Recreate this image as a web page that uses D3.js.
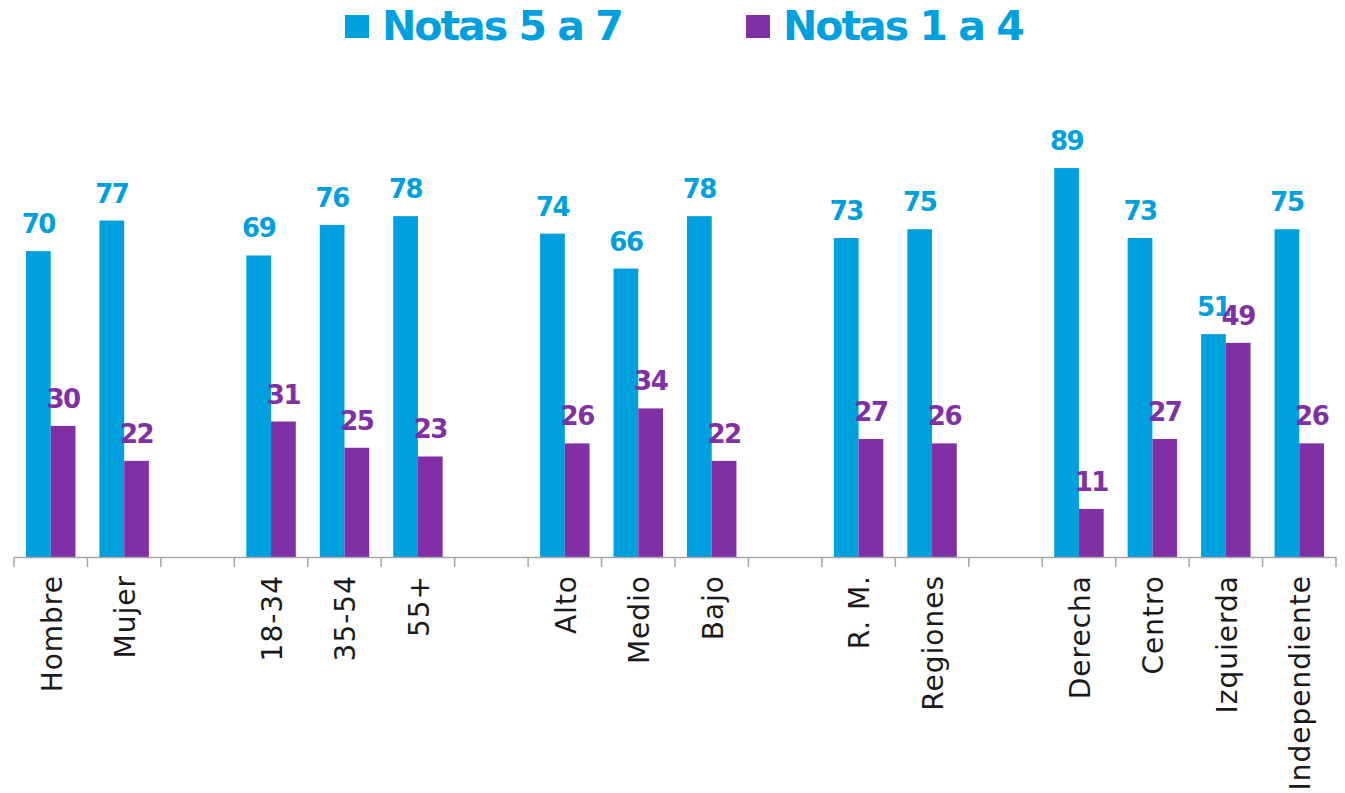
<!DOCTYPE html>
<html>
<head>
<meta charset="utf-8">
<script src="https://cdn.jsdelivr.net/npm/d3@7"></script>
<style>
  body { margin: 0; background: #fff; }
  svg { display: block; }
</style>
</head>
<body>
<div class="chart"></div>
<script>
// categories (empty strings are the gaps between groups)
var categories = ["Hombre", "Mujer", "", "18-34", "35-54", "55+", "", "Alto", "Medio", "Bajo", "",
  "R. M.", "Regiones", "", "Derecha", "Centro", "Izquierda", "Independiente"];
var notas57 = [70, 77, null, 69, 76, 78, null, 74, 66, 78, null, 73, 75, null, 89, 73, 51, 75];
var notas14 = [30, 22, null, 31, 25, 23, null, 26, 34, 22, null, 27, 26, null, 11, 27, 49, 26];
var seriesNames = ["Notas 5 a 7", "Notas 1 a 4"];

var width = 1345, height = 793;
var blue = "#00a0de", purple = "#8030a4";
var colors = [blue, purple];

var svg = d3.select(".chart").append("svg")
  .attr("width", width)
  .attr("height", height);

var x = d3.scaleBand()
  .domain(d3.range(categories.length))
  .range([14, 1336])
  .padding(0);

var xSeries = d3.scaleBand()
  .domain([0, 1])
  .range([12, x.bandwidth() - 12])
  .padding(0);

var y = d3.scaleLinear()
  .domain([0, 100])
  .range([557, 120]);

var rows = categories.map(function(c, i) {
  return { i: i, name: c, values: [notas57[i], notas14[i]] };
});

var groups = svg.selectAll("g.group")
  .data(rows)
  .enter().append("g")
  .attr("class", "group")
  .attr("transform", function(d) { return "translate(" + x(d.i) + ",0)"; });

var cells = groups.selectAll("g.cell")
  .data(function(d) {
    return d.values.map(function(v, s) { return { s: s, v: v }; })
      .filter(function(e) { return e.v !== null; });
  })
  .enter().append("g")
  .attr("class", "cell");

cells.append("rect")
  .attr("x", function(d) { return xSeries(d.s); })
  .attr("y", function(d) { return y(d.v); })
  .attr("width", xSeries.bandwidth())
  .attr("height", function(d) { return y(0) - y(d.v); })
  .attr("fill", function(d) { return colors[d.s]; });

cells.append("text")
  .attr("x", function(d) { return xSeries(d.s) + xSeries.bandwidth() / 2; })
  .attr("y", function(d) { return y(d.v) - 18; })
  .attr("text-anchor", "middle")
  .attr("font-family", "DejaVu Sans")
  .attr("font-weight", "bold")
  .attr("font-size", 26)
  .attr("letter-spacing", -1.5)
  .attr("fill", function(d) { return colors[d.s]; })
  .text(function(d) { return d.v; });

// axis line and boundary ticks
svg.append("line")
  .attr("x1", 14).attr("x2", 1336)
  .attr("y1", y(0) + 0.5).attr("y2", y(0) + 0.5)
  .attr("stroke", "#a6a6a6")
  .attr("stroke-width", 1.5);

var bounds = d3.range(categories.length).map(function(i) { return x(i); }).concat([x.range()[1]]);
svg.selectAll("line.tick")
  .data(bounds)
  .enter().append("line")
  .attr("class", "tick")
  .attr("x1", function(d) { return d; })
  .attr("x2", function(d) { return d; })
  .attr("y1", y(0))
  .attr("y2", y(0) + 10)
  .attr("stroke", "#a6a6a6")
  .attr("stroke-width", 1.5);

// category labels, rotated
svg.selectAll("text.cat")
  .data(rows.filter(function(d) { return d.name !== ""; }))
  .enter().append("text")
  .attr("class", "cat")
  .attr("transform", function(d) {
    return "translate(" + (x(d.i) + x.bandwidth() / 2 + 1) + ",575) rotate(-90)";
  })
  .attr("text-anchor", "end")
  .attr("dy", "0.35em")
  .attr("font-family", "DejaVu Sans")
  .attr("font-size", 28)
  .attr("letter-spacing", 1)
  .attr("fill", "#1a1a1a")
  .text(function(d) { return d.name; });

// legend
var legendX = [345, 746];
var legend = svg.selectAll("g.legend")
  .data(seriesNames)
  .enter().append("g")
  .attr("class", "legend")
  .attr("transform", function(d, i) { return "translate(" + legendX[i] + ",0)"; });

legend.append("rect")
  .attr("x", 0).attr("y", 15)
  .attr("width", 24).attr("height", 23)
  .attr("fill", function(d, i) { return colors[i]; });

legend.append("text")
  .attr("x", 37)
  .attr("y", 40)
  .attr("font-family", "DejaVu Sans")
  .attr("font-weight", "bold")
  .attr("font-size", 41)
  .attr("letter-spacing", -2)
  .attr("fill", blue)
  .text(function(d) { return d; });
</script>
</body>
</html>
